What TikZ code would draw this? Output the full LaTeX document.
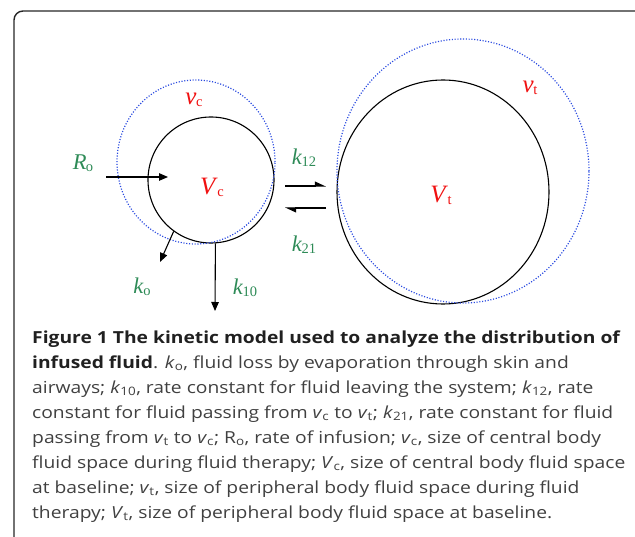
\documentclass[tikz,border=0pt]{standalone}
\usepackage{fontspec}
\setmainfont{Open Sans}[FakeStretch=1.16]
\newfontfamily\tms{Liberation Serif}
\usetikzlibrary{positioning, arrows.meta, shapes.geometric}
\definecolor{labelgreen}{HTML}{2E8B57}
\definecolor{labelred}{HTML}{F01010}
\definecolor{dotblue}{HTML}{2A4BE0}
\definecolor{captext}{HTML}{404040}
\definecolor{capbold}{HTML}{202020}
% symbol with a lowered upright subscript, as in the drawing
\newcommand{\symsub}[2]{{\itshape #1\/}\kern-0.5pt\raisebox{-2pt}{\fontsize{14.5}{14.5}\selectfont #2}}
% symbol with a subscript, as in the caption
\newcommand{\capsub}[2]{\textit{#1\/}\textsubscript{#2}}
\tikzset{
  compartment/.style={draw=black, line width=1.1pt, inner sep=0pt},
  spacebound/.style={draw=dotblue, line width=1.2pt, dash pattern=on 1.1pt off 1.7pt},
  flux/.style={-{Triangle[length=9pt, width=7.5pt]}, line width=1.1pt},
  halfflux/.style={-{Triangle[length=10pt, width=9pt, left]}, line width=1.1pt},
  ratelabel/.style={text=labelgreen, font=\tms\fontsize{22.5}{22.5}\selectfont, inner sep=0pt},
  sizelabel/.style={text=labelred, font=\tms\fontsize{25}{25}\selectfont, inner sep=0pt},
}
\begin{document}
\begin{tikzpicture}[x=1pt, y=-1pt]
  \useasboundingbox (0,0) rectangle (635,537);
  \clip (0,0) rectangle (635,537);

  % panel frame, running off the right and bottom edges
  \draw[line width=1.4pt, draw=black!85, rounded corners=9pt] (14,11) rectangle (660,570);

  % central and peripheral compartments at baseline
  \node[compartment, circle, minimum size=126pt] (cc) at (211,180) {};
  \node[compartment, ellipse, minimum width=212pt, minimum height=224pt] (pc) at (443,192) {};

  % expanded fluid spaces during therapy
  \node[spacebound, ellipse, minimum width=158pt, minimum height=164pt, inner sep=0pt] (cs) at (196,162) {};
  \node[spacebound, ellipse, minimum width=252pt, minimum height=264pt, inner sep=0pt] (ps) at (463,171) {};

  % size labels
  \node[sizelabel] (vcl) at (194,100) {\symsub{v}{c}};
  \node[sizelabel] (Vcl) at (212,187) {\symsub{V}{c}};
  \node[sizelabel] (vtl) at (530,88) {\symsub{v}{t}};
  \node[sizelabel] (Vtl) at (441,195) {\symsub{V}{t}};

  % infusion into the central space
  \coordinate (rin) at (106,177);
  \coordinate (rout) at (168,177);
  \node[ratelabel] (rol) at (83,163) {\symsub{R}{o}};
  \draw[flux] (rin) -- (rout);

  % exchange between the two spaces
  \coordinate (fwa) at (285,186);
  \coordinate (fwb) at (326,186);
  \coordinate (bka) at (326,208);
  \coordinate (bkb) at (285,208);
  \draw[halfflux] (fwa) -- (fwb);
  \draw[halfflux] (bka) -- (bkb);
  \node[ratelabel] (k12l) at (304,158) {\symsub{k}{12}};
  \node[ratelabel] (k21l) at (304,245) {\symsub{k}{21}};

  % losses from the central space
  \coordinate (koend) at (160,262);
  \coordinate (k10end) at (215,311);
  \draw[flux] (cc.234) -- (koend);
  \draw[flux] (cc.-86) -- (k10end);
  \node[ratelabel] (kol) at (142,287) {\symsub{k}{o}};
  \node[ratelabel] (k10l) at (245,288) {\symsub{k}{10}};

  % caption (anchored on the baseline of its last line)
  \node[anchor=base west, align=left, inner sep=0pt, text=captext,
        font=\fontsize{16.6}{25}\selectfont] (cap) at (32,518.3)
    {{\bfseries\color{capbold}Figure 1 The kinetic model used to analyze the distribution of}\\
     {\bfseries\color{capbold}infused fluid}. \capsub{k}{o}, fluid loss by evaporation through skin and\\
     airways; \capsub{k}{10}, rate constant for fluid leaving the system; \capsub{k}{12}, rate\\
     constant for fluid passing from \capsub{v}{c} to \capsub{v}{t}; \capsub{k}{21}, rate constant for fluid\\
     passing from \capsub{v}{t} to \capsub{v}{c}; R\textsubscript{o}, rate of infusion; \capsub{v}{c}, size of central body\\
     fluid space during fluid therapy; \capsub{V}{c}, size of central body fluid space\\
     at baseline; \capsub{v}{t}, size of peripheral body fluid space during fluid\\
     therapy; \capsub{V}{t}, size of peripheral body fluid space at baseline.};
\end{tikzpicture}
\end{document}
